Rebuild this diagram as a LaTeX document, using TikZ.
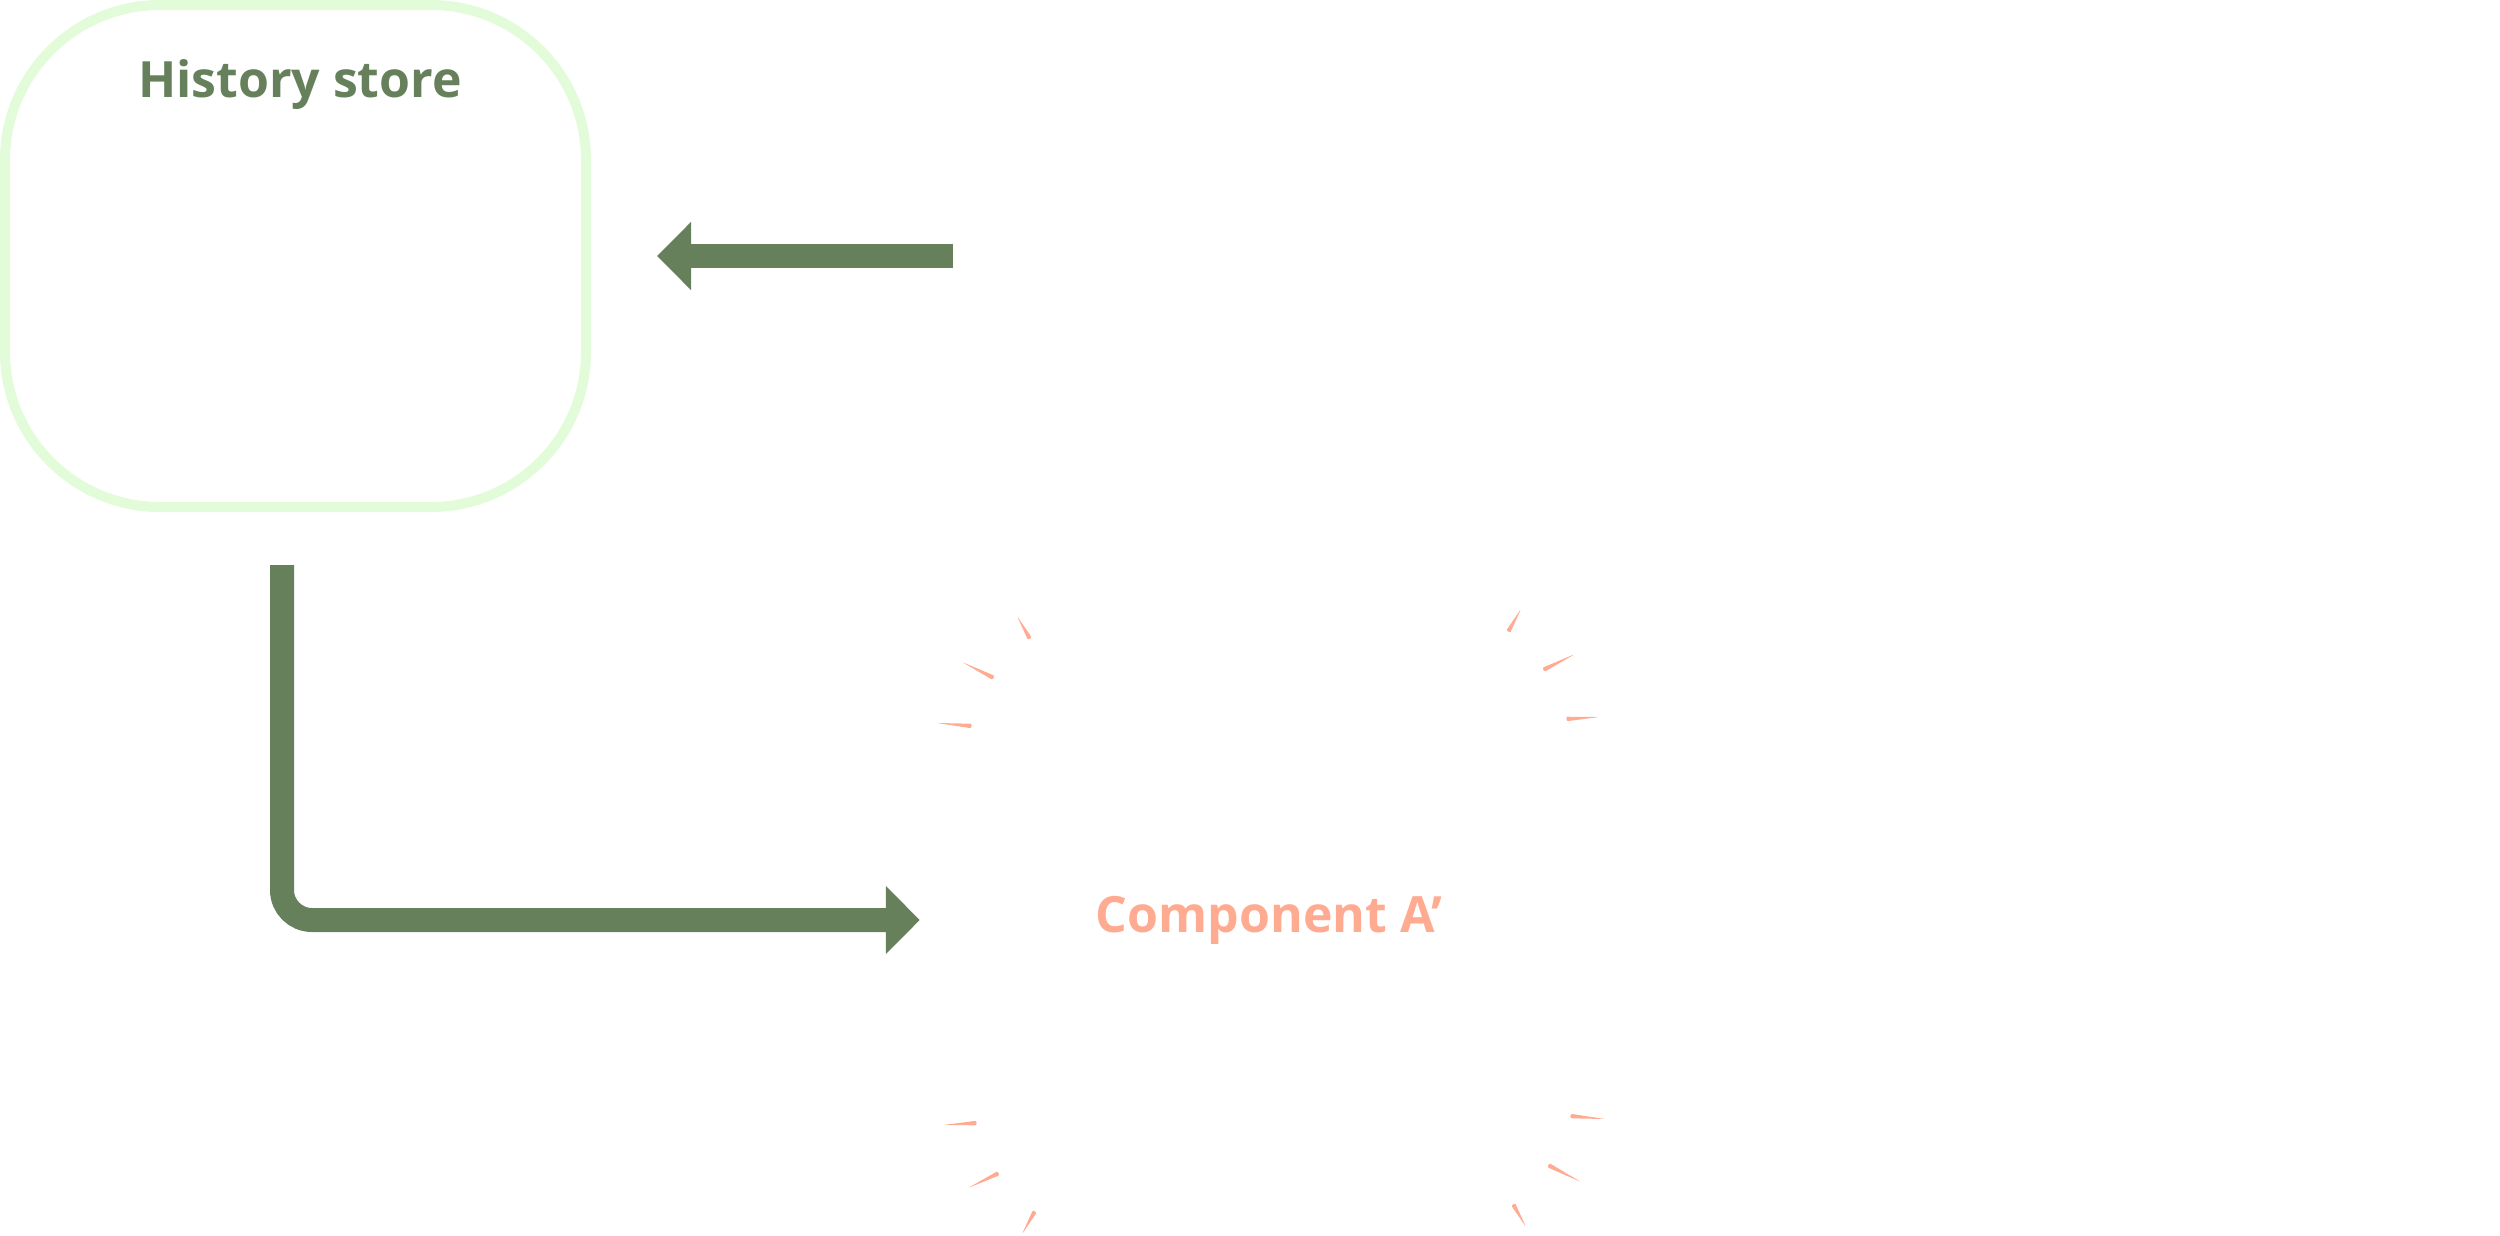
\documentclass[tikz,border=0pt]{standalone}
\usepackage{fontspec}
\setmainfont{Open Sans}
\usetikzlibrary{arrows.meta,calc}
\definecolor{hgreen}{RGB}{102,128,92}
\definecolor{boxgreen}{RGB}{226,252,218}
\definecolor{salmon}{RGB}{255,171,145}
\newcommand\sparkmark[2]{\fill[salmon,rounded corners=1.5pt] (#1) -- ($(#2)!2.3pt!90:(#1)$) -- ($(#2)!1.2pt!(#1)$) -- ($(#2)!2.3pt!-90:(#1)$) -- cycle;}
\begin{document}
\begin{tikzpicture}[x=1pt,y=-1pt,
  store/.style={draw=boxgreen,line width=10pt,rounded corners=155pt,
    minimum width=581pt,minimum height=502pt,inner sep=0pt},
  titletext/.style={font=\bfseries\fontsize{50}{60}\selectfont},
  flow/.style={draw=hgreen,line width=24pt,-{Triangle[length=34pt,width=66pt]}},
  comp/.style={minimum width=698pt,minimum height=620pt,inner sep=0pt,text=salmon}
]
\useasboundingbox (0,0) rectangle (2500,1235);
\node[store] (history) at (295.5,256) {};
\node[titletext,text=hgreen,anchor=base] (htitle) at (300,97) {History store};
\node[comp,titletext] (compA) at (1269,920) {Component A'};
\coordinate (src) at (953,256);
\draw[flow,shorten >=66pt] (src) -- (history.east);
\draw[flow,rounded corners=30pt] ($(history.south)+(-13.5,53)$) |- (compA.west);
% emphasis marks
\sparkmark{1017,616}{1030,639}
\sparkmark{962,662}{994,678}
\sparkmark{937,723}{972,726}
\sparkmark{1521,609}{1508,632}
\sparkmark{1575,654}{1543,670}
\sparkmark{1599,717}{1566,719}
\sparkmark{943,1125}{977,1123}
\sparkmark{968,1188}{999,1173}
\sparkmark{1022,1234}{1035,1211}
\sparkmark{1605,1119}{1570,1116}
\sparkmark{1581,1182}{1548,1165}
\sparkmark{1526,1227}{1513,1204}
\end{tikzpicture}
\end{document}
